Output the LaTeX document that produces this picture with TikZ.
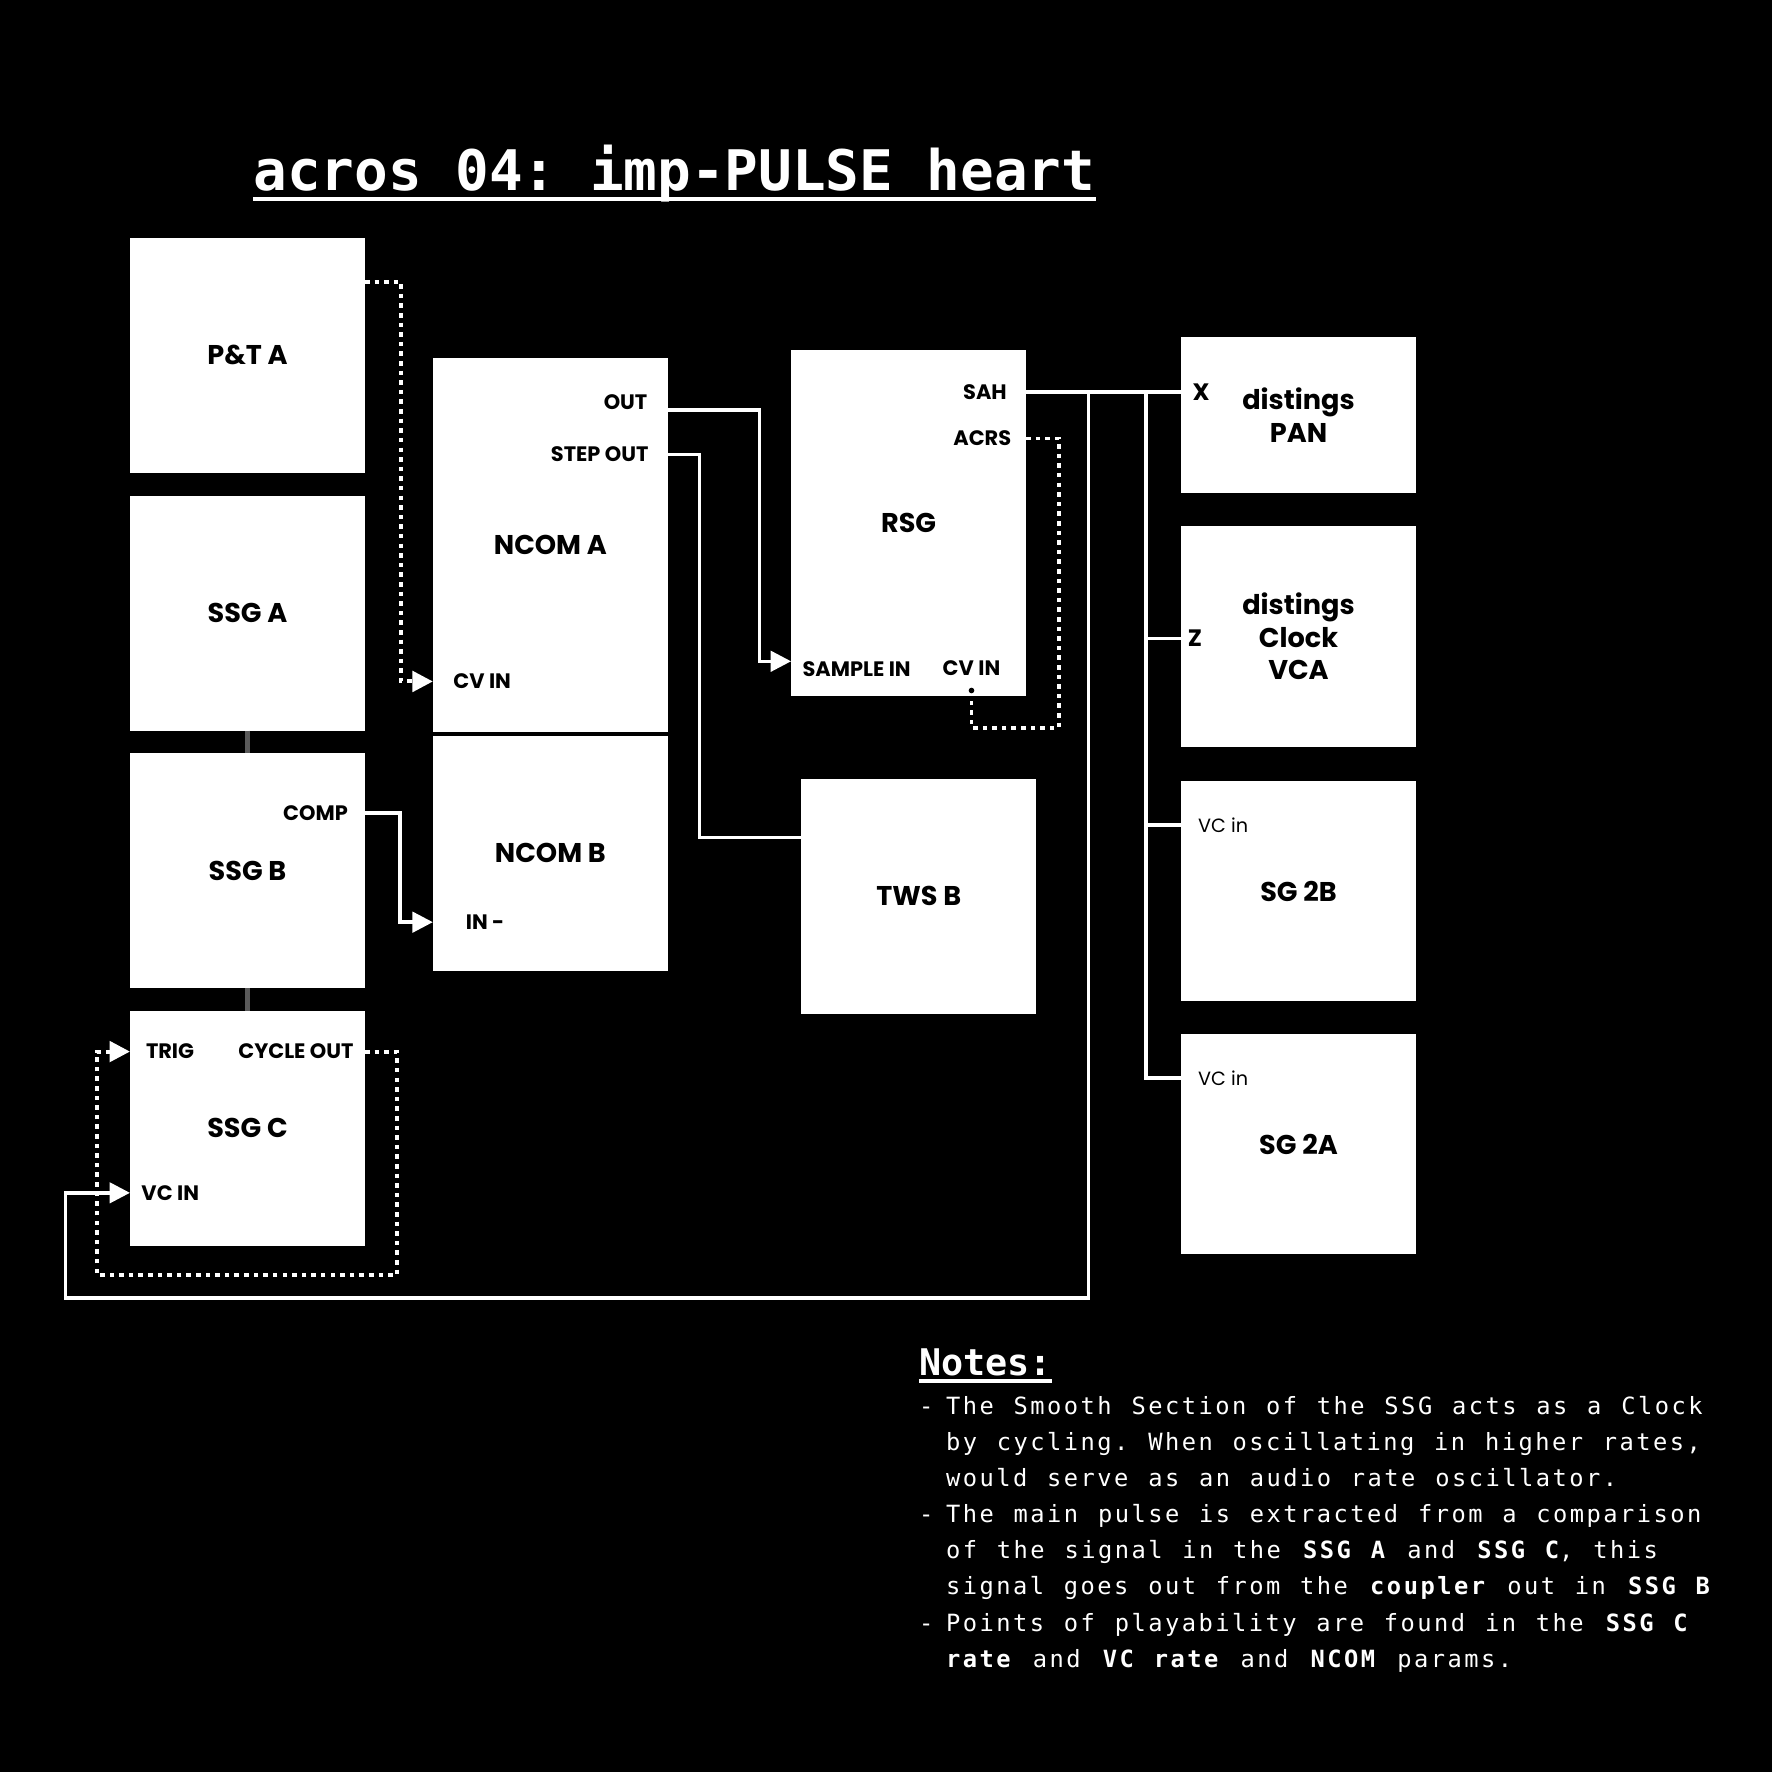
\documentclass[tikz,border=0pt]{standalone}
\usepackage{fontspec}
\newfontfamily\modfont{Poppins}
\newfontfamily\titlefont{DejaVu Sans Mono}
\newfontfamily\notefont{DejaVu Sans Mono}[LetterSpace=10.4, WordSpace=1.18]
\usepackage{xcolor}
\definecolor{bgcolor}{HTML}{000000}
\definecolor{modfill}{HTML}{FFFFFF}
\definecolor{modtext}{HTML}{000000}
\definecolor{cablecolor}{HTML}{FFFFFF}
\definecolor{linkcolor}{HTML}{5A5A5A}
\usepackage{tikz}
\usetikzlibrary{positioning,arrows.meta,calc}
\newcommand\notedash{\makebox[24pt][l]{-}}
\newcommand\noteindent{\hspace*{24pt}}
\tikzset{
    module/.style={
        rectangle,
        fill=modfill,
        text=modtext,
        minimum width=208pt,
        minimum height=208pt,
        inner sep=0pt,
        outer sep=0pt,
        align=center,
        font=\modfont\bfseries\fontsize{24}{29}\selectfont,
    },
    port/.style={
        text=modtext,
        inner sep=0pt,
        font=\modfont\bfseries\fontsize{18.5}{20}\selectfont,
    },
    smallport/.style={
        text=modtext,
        inner sep=0pt,
        font=\modfont\fontsize{17}{19}\selectfont,
    },
    cable/.style={
        draw=cablecolor,
        line width=3pt,
    },
    cabledot/.style={
        draw=cablecolor,
        line width=3.5pt,
        dash pattern=on 4pt off 4.5pt,
    },
    plug/.style={
        -{Triangle[length=18pt,width=18pt]},
    },
    link/.style={
        draw=linkcolor,
        line width=4pt,
    },
    titletext/.style={
        text=white,
        inner sep=0pt,
        font=\titlefont\bfseries\fontsize{49.5}{55}\selectfont\frenchspacing,
    },
    notehead/.style={
        text=white,
        inner sep=0pt,
        font=\titlefont\bfseries\fontsize{32.5}{36}\selectfont,
    },
    notebody/.style={
        text=white,
        inner sep=0pt,
        align=left,
        font=\notefont\fontsize{21}{32}\selectfont\frenchspacing,
    },
}

\begin{document}
\begin{tikzpicture}[x=1pt, y=1pt, node distance=20pt]
    \fill[bgcolor] (0,0) rectangle (1568,-1568);
    \useasboundingbox (0,0) rectangle (1568,-1568);

    \node[titletext, anchor=base west] (title) at (224,-169) {acros 04: imp-PULSE heart};
    \draw[white, line width=3pt] ($(title.base west)+(0,-7)$) -- ($(title.base east)+(0,-7)$);

    % left column
    \node[module] (pta) at (219,-314.5) {P\&T A};
    \node[module, below=of pta] (ssga) {SSG A};
    \node[module, below=of ssga] (ssgb) {SSG B};
    \node[module, below=of ssgb] (ssgc) {SSG C};

    % NCOM
    \node[module, minimum height=331pt] (ncoma) at (487,-482.5) {NCOM A};
    \node[module, below=3pt of ncoma] (ncomb) {NCOM B};

    % RSG and TWS
    \node[module, minimum height=306pt] (rsg) at (804,-463) {RSG};
    \node[module] (twsb) at (813,-793) {TWS B};

    % right column
    \node[module, minimum height=138pt] (pan) at (1149,-367) {distings\\PAN};
    \node[module, minimum height=196pt, below=29pt of pan] (vca) {distings\\Clock\\VCA};
    \node[module, minimum height=195pt, below=30pt of vca] (sg2b) {SG 2B};
    \node[module, minimum height=195pt, below=29pt of sg2b] (sg2a) {SG 2A};

    % jacks
    \node[port, anchor=east] (outa) at ($(ncoma.north east)+(-18,-39)$) {OUT};
    \node[port, anchor=east] (stepa) at ($(ncoma.north east)+(-17,-85)$) {STEP OUT};
    \node[port, anchor=west] (cvina) at ($(ncoma.south west)+(18,45)$) {CV IN};
    \node[port, anchor=west] (inb) at ($(ncomb.south west)+(29,43)$) {IN -};
    \node[port, anchor=east] (comp) at ($(ssgb.north east)+(-15,-53)$) {COMP};
    \node[port, anchor=west] (trig) at ($(ssgc.north west)+(14,-36)$) {TRIG};
    \node[port, anchor=east] (cycle) at ($(ssgc.north east)+(-10,-36)$) {CYCLE OUT};
    \node[port, anchor=west] (vcin) at ($(ssgc.south west)+(10,47)$) {VC IN};
    \node[port, anchor=east] (sah) at ($(rsg.north east)+(-17,-37)$) {SAH};
    \node[port, anchor=east] (acrs) at ($(rsg.north east)+(-13,-78)$) {ACRS};
    \node[port, anchor=west] (sample) at ($(rsg.south west)+(10,24)$) {SAMPLE IN};
    \node[port, anchor=west] (cvrsg) at ($(rsg.south west)+(134,25)$) {CV IN};
    \node[port, anchor=west, font=\modfont\bfseries\fontsize{21}{22}\selectfont] (xin) at ($(pan.north west)+(10,-49)$) {X};
    \node[port, anchor=west, font=\modfont\bfseries\fontsize{21}{22}\selectfont] (zin) at ($(vca.north west)+(6,-100)$) {Z};
    \node[smallport, anchor=west] (vcsgb) at ($(sg2b.north west)+(15,-39)$) {VC in};
    \node[smallport, anchor=west] (vcsga) at ($(sg2a.north west)+(15,-39)$) {VC in};

    % patching
    \draw[link] (ssga) -- (ssgb);
    \draw[link] (ssgb) -- (ssgc);
    \draw[cabledot, plug] ($(pta.north east)+(0,-39)$) -- ++(32,0) |- (ncoma.west |- cvina);
    \draw[cable, plug] (ssgb.east |- comp) -- ++(31,0) |- (ncomb.west |- inb);
    \draw[cable, plug] (ncoma.east |- outa.south) -- ++(81,0) |- (rsg.west |- sample.north);
    \draw[cable] (ncoma.east |- stepa) -- ++(28,0) |- ($(twsb.north west)+(0,-52)$);
    \draw[cable] (rsg.east |- sah) -- (pan.west |- xin);
    \draw[cable, plug] (rsg.east |- sah) -- ++(55,0) |- ($(ssgc.south west)+(-57,-46)$) |- (ssgc.west |- vcin);
    \draw[cable] ($(pan.west |- xin)+(-31,0)$) coordinate (bus) |- (vca.west |- zin)
        (bus) |- (sg2b.west |- vcsgb) (bus) |- (sg2a.west |- vcsga);
    \draw[cabledot] (rsg.east |- acrs) -- ++(29,0) |- ($(rsg.south -| cvrsg)+(0,-28)$) -- ($(rsg.south -| cvrsg)+(0,5)$);
    \fill[modtext] ($(rsg.south -| cvrsg)+(0,5)$) circle (2.5pt);
    \draw[cabledot, plug] (ssgc.east |- cycle) -- ++(28,0) |- ($(ssgc.south west)+(-29,-26)$) |- (ssgc.west |- trig);

    % notes
    \node[notehead, anchor=base west] (noteshead) at (813,-1217) {Notes:};
    \draw[white, line width=3pt] ($(noteshead.base west)+(0,-5)$) -- ($(noteshead.base east)+(0,-5)$);
    \node[notebody, anchor=north west] (notesbody) at (813,-1235) {%
        \notedash The Smooth Section of the SSG acts as a Clock\\
        \noteindent by cycling. When oscillating in higher rates,\\
        \noteindent would serve as an audio rate oscillator.\\
        \notedash The main pulse is extracted from a comparison\\
        \noteindent of the signal in the \textbf{SSG A} and \textbf{SSG C}, this\\
        \noteindent signal goes out from the \textbf{coupler} out in \textbf{SSG B}\\
        \notedash Points of playability are found in the \textbf{SSG C}\\
        \noteindent \textbf{rate} and \textbf{VC rate} and \textbf{NCOM} params.};
\end{tikzpicture}
\end{document}
